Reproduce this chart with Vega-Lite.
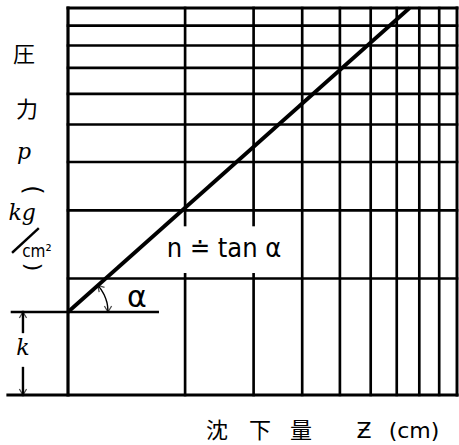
{
  "$schema": "https://vega.github.io/schema/vega-lite/v6.json",
  "width": 389,
  "height": 387,
  "autosize": {"type": "none"},
  "padding": {"left": 68, "top": 8, "right": 2, "bottom": 50},
  "background": "white",
  "config": {"view": {"stroke": null}},
  "datasets": {
    "segments": [
      {"kind": "frame", "x": 1, "x2": 1, "y": 1, "y2": 10},
      {"kind": "frame", "x": 0.701, "x2": 10, "y": 1, "y2": 1},
      {"kind": "top", "x": 1, "x2": 10, "y": 10, "y2": 10},
      {"kind": "top", "x": 10, "x2": 10, "y": 1, "y2": 10},
      {"kind": "grid", "x": 2, "x2": 2, "y": 1, "y2": 2.05},
      {"kind": "grid", "x": 2, "x2": 2, "y": 2.75, "y2": 10},
      {"kind": "grid", "x": 3, "x2": 3, "y": 1, "y2": 2.05},
      {"kind": "grid", "x": 3, "x2": 3, "y": 2.75, "y2": 10},
      {"kind": "grid", "x": 4, "x2": 4, "y": 1, "y2": 10},
      {"kind": "grid", "x": 5, "x2": 5, "y": 1, "y2": 10},
      {"kind": "grid", "x": 6, "x2": 6, "y": 1, "y2": 10},
      {"kind": "grid", "x": 7, "x2": 7, "y": 1, "y2": 10},
      {"kind": "grid", "x": 8, "x2": 8, "y": 1, "y2": 10},
      {"kind": "grid", "x": 9, "x2": 9, "y": 1, "y2": 10},
      {"kind": "grid", "x": 1, "x2": 10, "y": 2, "y2": 2},
      {"kind": "grid", "x": 1, "x2": 10, "y": 3, "y2": 3},
      {"kind": "grid", "x": 1, "x2": 10, "y": 4, "y2": 4},
      {"kind": "grid", "x": 1, "x2": 10, "y": 5, "y2": 5},
      {"kind": "grid", "x": 1, "x2": 10, "y": 6, "y2": 6},
      {"kind": "grid", "x": 1, "x2": 10, "y": 7, "y2": 7},
      {"kind": "grid", "x": 1, "x2": 10, "y": 8, "y2": 8},
      {"kind": "grid", "x": 1, "x2": 10, "y": 9, "y2": 9},
      {"kind": "grid", "x": 0.718, "x2": 1.7, "y": 1.6387, "y2": 1.6387},
      {"kind": "thin", "x": 0.766, "x2": 0.766, "y": 1.6387, "y2": 1.455},
      {"kind": "thin", "x": 0.766, "x2": 0.766, "y": 1.174, "y2": 1},
      {"kind": "thin", "x": 0.722, "x2": 0.837, "y": 2.342, "y2": 2.686}
    ],
    "settlement": [
      {"z": 1, "p": 1.6387},
      {"z": 7.55, "p": 10}
    ],
    "angleArc": [
      {"i": 0, "z": 1.2672, "p": 1.6387},
      {"i": 1, "z": 1.264, "p": 1.6963},
      {"i": 2, "z": 1.2546, "p": 1.7547},
      {"i": 3, "z": 1.2393, "p": 1.8122},
      {"i": 4, "z": 1.2185, "p": 1.8679},
      {"i": 5, "z": 1.1933, "p": 1.9199}
    ],
    "arrowheads": [
      {"dir": "up", "z": 0.766, "p": 1.6387},
      {"dir": "down", "z": 0.766, "p": 1},
      {"dir": "down", "z": 1.2672, "p": 1.6387},
      {"dir": "ccw", "z": 1.1933, "p": 1.9199}
    ]
  },
  "encoding": {
    "x": {"type": "quantitative", "scale": {"type": "log", "domain": [1, 10], "nice": false}, "axis": null},
    "y": {"type": "quantitative", "scale": {"type": "log", "domain": [1, 10], "nice": false}, "axis": null}
  },
  "layer": [
    {
      "data": {"name": "segments"},
      "mark": {"type": "rule", "color": "black", "clip": false, "strokeCap": "square"},
      "encoding": {
        "x": {"field": "x", "type": "quantitative"},
        "x2": {"field": "x2"},
        "y": {"field": "y", "type": "quantitative"},
        "y2": {"field": "y2"},
        "strokeWidth": {
          "field": "kind",
          "type": "nominal",
          "scale": {"domain": ["frame", "top", "grid", "thin"], "range": [3.2, 2.4, 1.9, 1.3]},
          "legend": null
        }
      }
    },
    {
      "data": {"name": "settlement"},
      "mark": {"type": "line", "color": "black", "strokeWidth": 3.8, "clip": false},
      "encoding": {
        "x": {"field": "z", "type": "quantitative"},
        "y": {"field": "p", "type": "quantitative"}
      }
    },
    {
      "data": {"name": "angleArc"},
      "mark": {"type": "line", "color": "black", "strokeWidth": 1.4, "interpolate": "monotone", "clip": false},
      "encoding": {
        "x": {"field": "z", "type": "quantitative"},
        "y": {"field": "p", "type": "quantitative"},
        "order": {"field": "i"}
      }
    },
    {
      "data": {"name": "arrowheads"},
      "transform": [{"filter": "datum.dir === 'up'"}],
      "mark": {"type": "point", "shape": "M-0.6,1L0,0L0.6,1", "size": 144, "filled": false, "stroke": "black", "strokeWidth": 1.3, "angle": 0, "clip": false},
      "encoding": {"x": {"field": "z", "type": "quantitative"}, "y": {"field": "p", "type": "quantitative"}}
    },
    {
      "data": {"name": "arrowheads"},
      "transform": [{"filter": "datum.dir === 'down'"}],
      "mark": {"type": "point", "shape": "M-0.6,1L0,0L0.6,1", "size": 144, "filled": false, "stroke": "black", "strokeWidth": 1.3, "angle": 180, "clip": false},
      "encoding": {"x": {"field": "z", "type": "quantitative"}, "y": {"field": "p", "type": "quantitative"}}
    },
    {
      "data": {"name": "arrowheads"},
      "transform": [{"filter": "datum.dir === 'ccw'"}],
      "mark": {"type": "point", "shape": "M-0.6,1L0,0L0.6,1", "size": 144, "filled": false, "stroke": "black", "strokeWidth": 1.3, "angle": 318, "clip": false},
      "encoding": {"x": {"field": "z", "type": "quantitative"}, "y": {"field": "p", "type": "quantitative"}}
    },
    {
      "data": {"values": [
        {"t": "圧", "z": 0.771, "p": 7.56},
        {"t": "力", "z": 0.784, "p": 5.45},
        {"t": "沈", "z": 2.416, "p": 0.807},
        {"t": "下", "z": 3.116, "p": 0.807},
        {"t": "量", "z": 3.972, "p": 0.807}
      ]},
      "mark": {"type": "text", "font": "Noto Sans CJK JP", "fontSize": 22, "color": "black", "baseline": "middle", "align": "center", "clip": false},
      "encoding": {"x": {"field": "z", "type": "quantitative"}, "y": {"field": "p", "type": "quantitative"}, "text": {"field": "t"}}
    },
    {
      "data": {"values": [
        {"t": "p", "z": 0.771, "p": 4.245},
        {"t": "kg", "z": 0.762, "p": 2.953},
        {"t": "k", "z": 0.766, "p": 1.323}
      ]},
      "mark": {"type": "text", "font": "DejaVu Serif", "fontStyle": "italic", "fontSize": 22, "color": "black", "baseline": "middle", "align": "center", "clip": false},
      "encoding": {"x": {"field": "z", "type": "quantitative"}, "y": {"field": "p", "type": "quantitative"}, "text": {"field": "t"}}
    },
    {
      "data": {"values": [{"t": "(", "z": 0.808, "p": 3.386}]},
      "mark": {"type": "text", "font": "DejaVu Sans", "fontSize": 24, "angle": 90, "color": "black", "baseline": "middle", "align": "center", "clip": false},
      "encoding": {"x": {"field": "z", "type": "quantitative"}, "y": {"field": "p", "type": "quantitative"}, "text": {"field": "t"}}
    },
    {
      "data": {"values": [{"t": ")", "z": 0.813, "p": 2.141}]},
      "mark": {"type": "text", "font": "DejaVu Sans", "fontSize": 22, "angle": 90, "color": "black", "baseline": "middle", "align": "center", "clip": false},
      "encoding": {"x": {"field": "z", "type": "quantitative"}, "y": {"field": "p", "type": "quantitative"}, "text": {"field": "t"}}
    },
    {
      "data": {"values": [{"t": "cm²", "z": 0.832, "p": 2.342}]},
      "mark": {"type": "text", "font": "DejaVu Sans Condensed", "fontSize": 17, "color": "black", "baseline": "middle", "align": "center", "clip": false},
      "encoding": {"x": {"field": "z", "type": "quantitative"}, "y": {"field": "p", "type": "quantitative"}, "text": {"field": "t"}}
    },
    {
      "data": {"values": [{"t": "n ≐ tan α", "z": 2.518, "p": 2.384}]},
      "mark": {"type": "text", "font": "DejaVu Sans Condensed", "fontSize": 27, "color": "black", "baseline": "middle", "align": "center", "clip": false},
      "encoding": {"x": {"field": "z", "type": "quantitative"}, "y": {"field": "p", "type": "quantitative"}, "text": {"field": "t"}}
    },
    {
      "data": {"values": [{"t": "α", "z": 1.504, "p": 1.781}]},
      "mark": {"type": "text", "font": "DejaVu Sans", "fontSize": 30, "color": "black", "baseline": "middle", "align": "center", "clip": false},
      "encoding": {"x": {"field": "z", "type": "quantitative"}, "y": {"field": "p", "type": "quantitative"}, "text": {"field": "t"}}
    },
    {
      "data": {"values": [
        {"t": "Ƶ", "z": 5.767, "p": 0.807},
        {"t": "(cm)", "z": 7.753, "p": 0.807}
      ]},
      "mark": {"type": "text", "font": "DejaVu Sans", "fontSize": 22, "color": "black", "baseline": "middle", "align": "center", "clip": false},
      "encoding": {"x": {"field": "z", "type": "quantitative"}, "y": {"field": "p", "type": "quantitative"}, "text": {"field": "t"}}
    }
  ]
}
